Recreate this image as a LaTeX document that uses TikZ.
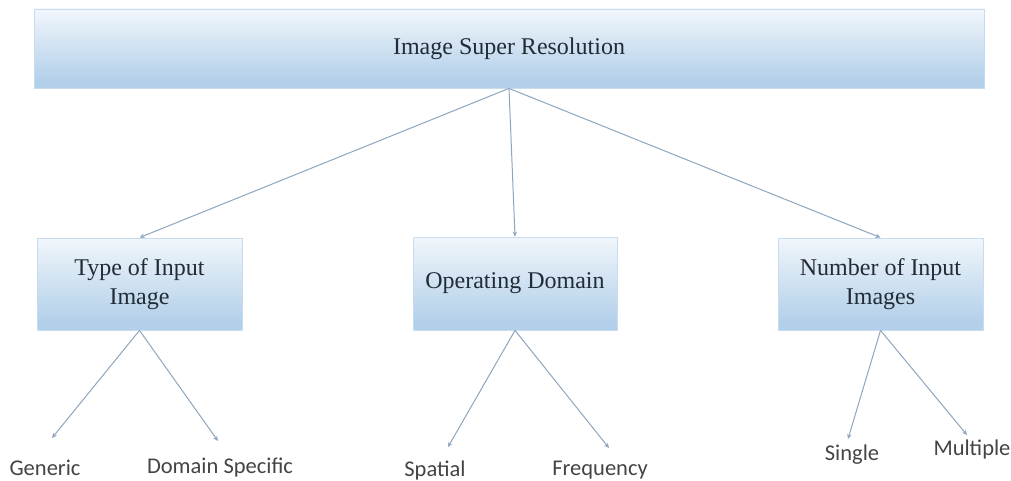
\documentclass[tikz,border=0pt]{standalone}
\usepackage{fontspec}
\setmainfont{Liberation Serif}
\newfontfamily\leaffont{Carlito}
\usetikzlibrary{arrows.meta}

\definecolor{boxtop}{HTML}{F1F6FB}
\definecolor{boxmid}{HTML}{B3D0EA}
\definecolor{boxbot}{HTML}{D9E8F5}
\definecolor{boxedge}{HTML}{C9DCEE}
\definecolor{linkcol}{HTML}{8DA6BE}
\definecolor{boxtext}{HTML}{222C36}
\definecolor{leaftext}{HTML}{444444}

% light at the top, deeper blue low down, paler again at the bottom edge
\pgfdeclareverticalshading{boxshade}{100bp}{%
  color(0bp)=(boxbot); color(12bp)=(boxmid); color(30bp)=(boxmid);
  color(75bp)=(boxtop); color(100bp)=(boxtop)}

\tikzset{
  catbox/.style={draw=boxedge, line width=0.8pt, shading=boxshade,
    text=boxtext, align=center, inner sep=0pt, font=\fontsize{24}{29}\selectfont},
  leaf/.style={text=leaftext, inner sep=0pt, font=\leaffont\fontsize{22.5}{26}\selectfont},
  link/.style={draw=linkcol, line width=1pt,
    -{Stealth[length=5pt,width=4.5pt]}},
}

\begin{document}
\begin{tikzpicture}[x=1pt, y=-1pt]
\useasboundingbox (0,0) rectangle (1011,481);

% root and the three classification criteria
\node[catbox, minimum width=950pt, minimum height=79pt] (root) at (509,48.5)
  {Image Super Resolution};
\node[catbox, minimum width=205pt, minimum height=92pt] (type) at (139.5,284)
  {Type of Input\\Image};
\node[catbox, minimum width=204pt, minimum height=93pt] (dom) at (515,283.5)
  {Operating Domain};
\node[catbox, minimum width=205pt, minimum height=92pt] (num) at (880.5,284)
  {Number of Input\\Images};

% leaves
\node[leaf] (gen) at (45,468) {Generic};
\node[leaf] (spec) at (220,468) {Domain Specific};
\node[leaf] (spat) at (435,470) {Spatial};
\node[leaf] (freq) at (600,470) {Frequency};
\node[leaf] (sing) at (852,455) {Single};
\node[leaf] (mult) at (972,449) {Multiple};

% arrow tips above the leaves
\coordinate (genT) at (52,438);
\coordinate (specT) at (218,441);
\coordinate (spatT) at (448,447);
\coordinate (freqT) at (609,448);
\coordinate (singT) at (848,439);
\coordinate (multT) at (967,435);

% connectors
\draw[link] (root.south) -- (type.north);
\draw[link] (root.south) -- (dom.north);
\draw[link] (root.south) -- (num.north);

\draw[link] (type.south) -- (genT);
\draw[link] (type.south) -- (specT);
\draw[link] (dom.south) -- (spatT);
\draw[link] (dom.south) -- (freqT);
\draw[link] (num.south) -- (singT);
\draw[link] (num.south) -- (multT);
\end{tikzpicture}
\end{document}
